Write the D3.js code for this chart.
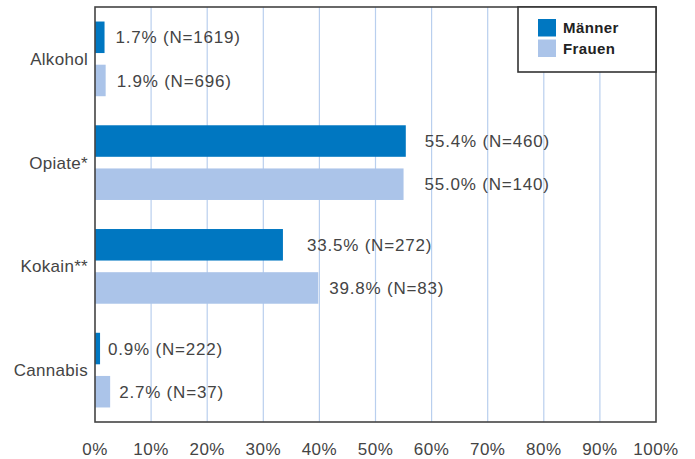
<!DOCTYPE html>
<html>
<head>
<meta charset="utf-8">
<script src="https://cdn.jsdelivr.net/npm/d3@7.9.0/dist/d3.min.js"></script>
<style>
  html, body { margin: 0; padding: 0; background: #fff; }
  svg { display: block; font-family: "Liberation Sans", Arial, sans-serif; }
</style>
</head>
<body>
<svg id="chart" width="695" height="459"></svg>
<script>
const categories = ["Alkohol", "Opiate*", "Kokain**", "Cannabis"];
const series = ["Männer", "Frauen"];
const maenner = [1.7, 55.4, 33.5, 0.9];
const frauen = [1.9, 55.0, 39.8, 2.7];
const nMaenner = [1619, 460, 272, 222];
const nFrauen = [696, 140, 83, 37];
const ticks = [0, 10, 20, 30, 40, 50, 60, 70, 80, 90, 100];

// the source placed some value labels a bit further out by hand
const labelGapM = [11, 19, 24, 8];
const labelGapF = [11, 21, 11, 9];

const colors = { "Männer": "#0077c1", "Frauen": "#abc4e9" };

const svg = d3.select("#chart");
const plotLeft = 95, plotRight = 656, plotTop = 7, plotBottom = 422;

const x = d3.scaleLinear().domain([0, 100]).range([plotLeft, plotRight]);
const y = d3.scaleBand().domain(categories).range([plotTop, plotBottom])
  .paddingInner(0.28).paddingOuter(0.14);
const ySub = d3.scaleBand().domain(series).range([0, y.bandwidth()])
  .paddingInner(0.27);

// gridlines
svg.append("g")
  .selectAll("line")
  .data(ticks.filter((t) => t > 0 && t < 100))
  .join("line")
  .attr("x1", (d) => x(d)).attr("x2", (d) => x(d))
  .attr("y1", plotTop).attr("y2", plotBottom)
  .attr("stroke", "#b9cfee")
  .attr("stroke-width", 1.2);

const rows = categories.map((c, i) => ({
  cat: c,
  vals: [
    { s: "Männer", v: maenner[i], n: nMaenner[i], gap: labelGapM[i] },
    { s: "Frauen", v: frauen[i], n: nFrauen[i], gap: labelGapF[i] }
  ]
}));

const groups = svg.append("g")
  .selectAll("g")
  .data(rows)
  .join("g")
  .attr("transform", (d) => `translate(0,${y(d.cat)})`);

groups.selectAll("rect")
  .data((d) => d.vals)
  .join("rect")
  .attr("x", x(0))
  .attr("y", (d) => ySub(d.s))
  .attr("width", (d) => x(d.v) - x(0))
  .attr("height", ySub.bandwidth())
  .attr("fill", (d) => colors[d.s]);

groups.selectAll("text.val")
  .data((d) => d.vals)
  .join("text")
  .attr("class", "val")
  .attr("x", (d) => x(d.v) + d.gap)
  .attr("y", (d) => ySub(d.s) + ySub.bandwidth() / 2)
  .attr("dy", "0.36em")
  .attr("font-size", 17)
  .attr("letter-spacing", 0.8)
  .attr("fill", "#444")
  .text((d) => `${d.v.toFixed(1)}% (N=${d.n})`);

// category labels
svg.append("g")
  .selectAll("text")
  .data(categories)
  .join("text")
  .attr("x", plotLeft - 7)
  .attr("y", (d) => y(d) + y.bandwidth() / 2)
  .attr("dy", "0.36em")
  .attr("text-anchor", "end")
  .attr("font-size", 17)
  .attr("letter-spacing", 0.3)
  .attr("fill", "#444")
  .text((d) => d);

// frame
svg.append("rect")
  .attr("x", plotLeft).attr("y", plotTop)
  .attr("width", plotRight - plotLeft).attr("height", plotBottom - plotTop)
  .attr("fill", "none")
  .attr("stroke", "#444")
  .attr("stroke-width", 1.6);

// x tick labels
svg.append("g")
  .selectAll("text")
  .data(ticks)
  .join("text")
  .attr("x", (d) => x(d))
  .attr("y", 455)
  .attr("text-anchor", "middle")
  .attr("font-size", 17)
  .attr("letter-spacing", 0.5)
  .attr("fill", "#444")
  .text((d) => d + "%");

// legend
const legend = svg.append("g");
legend.append("rect")
  .attr("x", 518).attr("y", plotTop)
  .attr("width", plotRight - 518).attr("height", 65)
  .attr("fill", "#fff")
  .attr("stroke", "#333")
  .attr("stroke-width", 1.6);

const items = legend.selectAll("g")
  .data(series)
  .join("g")
  .attr("transform", (d, i) => `translate(538,${19 + i * 20.5})`);

items.append("rect")
  .attr("width", 18).attr("height", 17.5)
  .attr("fill", (d) => colors[d]);

items.append("text")
  .attr("x", 25).attr("y", 9)
  .attr("dy", "0.36em")
  .attr("font-size", 15)
  .attr("font-weight", "bold")
  .attr("letter-spacing", 0.4)
  .attr("fill", "#222")
  .text((d) => d);
</script>
</body>
</html>
